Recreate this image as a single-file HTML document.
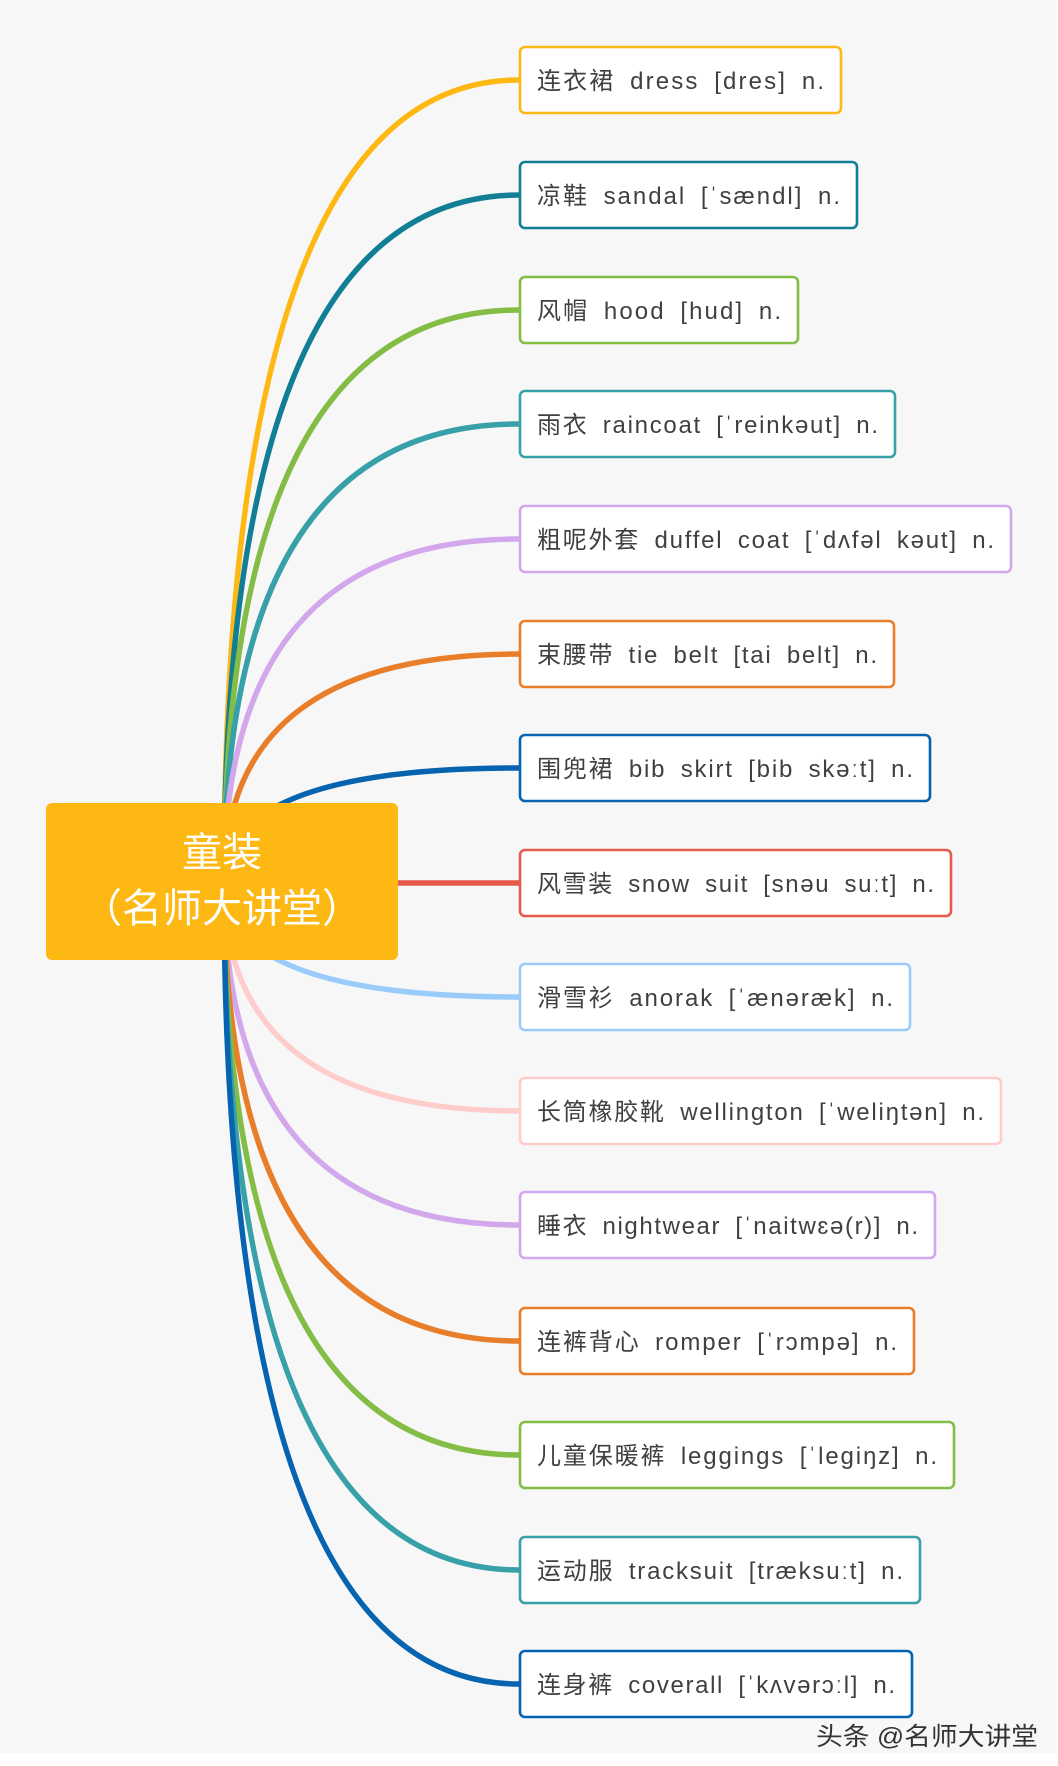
<!DOCTYPE html>
<html><head><meta charset="utf-8"><style>
html,body{margin:0;padding:0;background:#fff}
svg{display:block}
text{font-family:"Liberation Sans","Noto Sans CJK SC",sans-serif}
</style></head><body>
<svg width="1058" height="1766" viewBox="0 0 1058 1766" xmlns="http://www.w3.org/2000/svg">
<rect x="0" y="0" width="1056" height="1753" fill="#f7f7f7"/>
<g fill="none" stroke-width="5.5" stroke-linecap="round">
<path d="M224 883 Q224 80 519 80" stroke="#FDB813"/>
<path d="M224 883 Q224 195 519 195" stroke="#127E96"/>
<path d="M224 883 Q224 310 519 310" stroke="#84BD45"/>
<path d="M224 883 Q224 424 519 424" stroke="#38A0A8"/>
<path d="M224 883 Q224 539 519 539" stroke="#D3A7EB"/>
<path d="M224 883 Q224 654 519 654" stroke="#E87E2A"/>
<path d="M224 883 Q224 768 519 768" stroke="#0563B0"/>
<path d="M398 883 L519 883" stroke="#E55A4B"/>
<path d="M224 883 Q224 997 519 997" stroke="#99CCFA"/>
<path d="M224 883 Q224 1111 519 1111" stroke="#FFCCCC"/>
<path d="M224 883 Q224 1225 519 1225" stroke="#D3A7EB"/>
<path d="M224 883 Q224 1341 519 1341" stroke="#E87E2A"/>
<path d="M224 883 Q224 1455 519 1455" stroke="#84BD45"/>
<path d="M224 883 Q224 1570 519 1570" stroke="#38A0A8"/>
<path d="M224 883 Q224 1684 519 1684" stroke="#0563B0"/>
</g>
<rect x="46" y="803" width="352" height="157" rx="6" fill="#FDB813"/>
<text x="222" y="866" font-size="40" fill="#fff" text-anchor="middle">童装</text>
<text x="222" y="922" font-size="40" fill="#fff" text-anchor="middle">（名师大讲堂）</text>
<g stroke-width="2.6" fill="#fff">
<rect x="520" y="47" width="321" height="66" rx="5" stroke="#FDB813"/>
<rect x="520" y="162" width="337" height="66" rx="5" stroke="#127E96"/>
<rect x="520" y="277" width="278" height="66" rx="5" stroke="#84BD45"/>
<rect x="520" y="391" width="375" height="66" rx="5" stroke="#38A0A8"/>
<rect x="520" y="506" width="491" height="66" rx="5" stroke="#D3A7EB"/>
<rect x="520" y="621" width="374" height="66" rx="5" stroke="#E87E2A"/>
<rect x="520" y="735" width="410" height="66" rx="5" stroke="#0563B0"/>
<rect x="520" y="850" width="431" height="66" rx="5" stroke="#E55A4B"/>
<rect x="520" y="964" width="390" height="66" rx="5" stroke="#99CCFA"/>
<rect x="520" y="1078" width="481" height="66" rx="5" stroke="#FFCCCC"/>
<rect x="520" y="1192" width="415" height="66" rx="5" stroke="#D3A7EB"/>
<rect x="520" y="1308" width="394" height="66" rx="5" stroke="#E87E2A"/>
<rect x="520" y="1422" width="434" height="66" rx="5" stroke="#84BD45"/>
<rect x="520" y="1537" width="400" height="66" rx="5" stroke="#38A0A8"/>
<rect x="520" y="1651" width="392" height="66" rx="5" stroke="#0563B0"/>
</g>
<g font-size="24" fill="#404040" word-spacing="6">
<text x="537" y="89" textLength="287" lengthAdjust="spacing">连衣裙 dress [dres] n.</text>
<text x="537" y="204" textLength="303" lengthAdjust="spacing">凉鞋 sandal [ˈsændl] n.</text>
<text x="537" y="319" textLength="244" lengthAdjust="spacing">风帽 hood [hud] n.</text>
<text x="537" y="433" textLength="341" lengthAdjust="spacing">雨衣 raincoat [ˈreinkəut] n.</text>
<text x="537" y="548" textLength="457" lengthAdjust="spacing">粗呢外套 duffel coat [ˈdʌfəl kəut] n.</text>
<text x="537" y="663" textLength="340" lengthAdjust="spacing">束腰带 tie belt [tai belt] n.</text>
<text x="537" y="777" textLength="376" lengthAdjust="spacing">围兜裙 bib skirt [bib skəːt] n.</text>
<text x="537" y="892" textLength="397" lengthAdjust="spacing">风雪装 snow suit [snəu suːt] n.</text>
<text x="537" y="1006" textLength="356" lengthAdjust="spacing">滑雪衫 anorak [ˈænəræk] n.</text>
<text x="537" y="1120" textLength="447" lengthAdjust="spacing">长筒橡胶靴 wellington [ˈweliŋtən] n.</text>
<text x="537" y="1234" textLength="381" lengthAdjust="spacing">睡衣 nightwear [ˈnaitwɛə(r)] n.</text>
<text x="537" y="1350" textLength="360" lengthAdjust="spacing">连裤背心 romper [ˈrɔmpə] n.</text>
<text x="537" y="1464" textLength="400" lengthAdjust="spacing">儿童保暖裤 leggings [ˈlegiŋz] n.</text>
<text x="537" y="1579" textLength="366" lengthAdjust="spacing">运动服 tracksuit [træksuːt] n.</text>
<text x="537" y="1693" textLength="358" lengthAdjust="spacing">连身裤 coverall [ˈkʌvərɔːl] n.</text>
</g>
<text x="816" y="1745" font-size="25" fill="#333" textLength="222" lengthAdjust="spacingAndGlyphs">头条 @名师大讲堂</text>
</svg>
</body></html>
